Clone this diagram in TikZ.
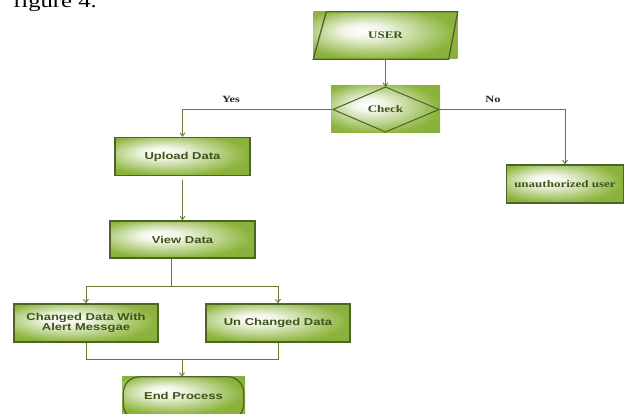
\documentclass[tikz,border=0pt]{standalone}
\usepackage{fontspec}
\setmainfont{Liberation Serif}
\newfontfamily\arialfont{Liberation Sans}
\usetikzlibrary{arrows.meta}
\definecolor{gfill}{HTML}{8CB43C}
\definecolor{gdark}{HTML}{4F6228}
\definecolor{gline}{HTML}{667A38}
\definecolor{gtext}{HTML}{3F531A}
\colorlet{gmid}{white!88!gfill}
\colorlet{gedge}{gfill!92!black}
\pgfdeclareradialshading{boxshade}{\pgfpoint{-9bp}{6bp}}{color(0bp)=(white); color(7bp)=(gmid); color(28bp)=(gfill); color(50bp)=(gedge)}
\newcommand{\wtxt}[1]{\scalebox{1.3}[1]{#1}}
\tikzset{
  shbox/.style={shading=boxshade, inner sep=0pt, text=gtext},
  serift/.style={font=\bfseries\fontsize{10}{11}\selectfont},
  sanst/.style={font=\arialfont\bfseries\fontsize{10}{11}\selectfont, align=center},
  bord/.style={draw=gdark, line width=1.3pt},
  dbord/.style={draw=gdark, line width=1pt},
  conn/.style={draw=gline, line width=0.9pt},
  arr/.style={conn, -{Straight Barb[length=3.5pt,width=5pt]}},
  lbl/.style={font=\bfseries\fontsize{9.5}{10}\selectfont, text=black!85, inner sep=0pt}
}
\begin{document}
\begin{tikzpicture}[x=1pt,y=-1pt]
\useasboundingbox (0,0) rectangle (625,414);
\clip (0,0) rectangle (625,414);
% caption fragment
\node[anchor=base west, font=\fontsize{19}{19}\selectfont, inner sep=0pt] (fig) at (13,7.5) {\wtxt{figure 4.}};
% USER
\node[shbox, serift, minimum width=144pt, minimum height=47pt] (user) at (385.5,35.5) {\wtxt{USER}};
\draw[bord] ([xshift=13pt]user.north west) -- (user.north east) -- ([xshift=-9pt]user.south east) -- (user.south west) -- cycle;
% Check
\node[shbox, serift, minimum width=109pt, minimum height=47pt] (checkbg) at (385.5,109.5) {\wtxt{Check}};
\coordinate (cl) at (333,109.5);
\coordinate (ct) at (385.5,87);
\coordinate (cr) at (439,109.5);
\coordinate (cb) at (385.5,132);
\draw[dbord] (cl) -- (ct) -- (cr) -- (cb) -- cycle;
% boxes
\node[shbox, sanst, bord, minimum width=135pt, minimum height=38pt] (upload) at (182.5,156.5) {\wtxt{Upload Data}};
\node[shbox, serift, bord, minimum width=117pt, minimum height=38pt] (unauth) at (565,184) {\wtxt{unauthorized user}};
\node[shbox, sanst, bord, minimum width=145pt, minimum height=37pt] (view) at (182.5,239.5) {\wtxt{View Data}};
\node[shbox, sanst, bord, minimum width=144pt, minimum height=38pt] (changed) at (86,323) {\wtxt{Changed Data With}\\[-1pt]\wtxt{Alert Messgae}};
\node[shbox, sanst, bord, minimum width=144pt, minimum height=38pt] (unchanged) at (278,323) {\wtxt{Un Changed Data}};
\node[shbox, sanst, minimum width=123pt, minimum height=37pt] (endbg) at (183.5,395.5) {\wtxt{End Process}};
\draw[bord, rounded corners=16pt] ([xshift=1.5pt]endbg.north west) rectangle ([xshift=-1.5pt,yshift=-6pt]endbg.south east);
% labels
\node[lbl] (yes) at (231,99) {\wtxt{Yes}};
\node[lbl] (no) at (493,99) {\wtxt{No}};
% connectors
\draw[arr] (user.south) -- (ct);
\draw[arr] (cl) -| (upload.north);
\draw[arr] (cr) -| (unauth.north);
\draw[arr, shorten <=4pt] (upload.south) -- (view.north);
\coordinate (split) at (171,286);
\draw[conn] (view.south -| split) -- (split);
\draw[arr] (split) -| (changed.north);
\draw[arr] (split) -| (unchanged.north);
\coordinate (merge) at (182,359);
\draw[conn] (changed.south) |- (merge);
\draw[conn] (unchanged.south) |- (merge);
\draw[arr] (merge) -- (merge |- endbg.north);
\end{tikzpicture}
\end{document}
